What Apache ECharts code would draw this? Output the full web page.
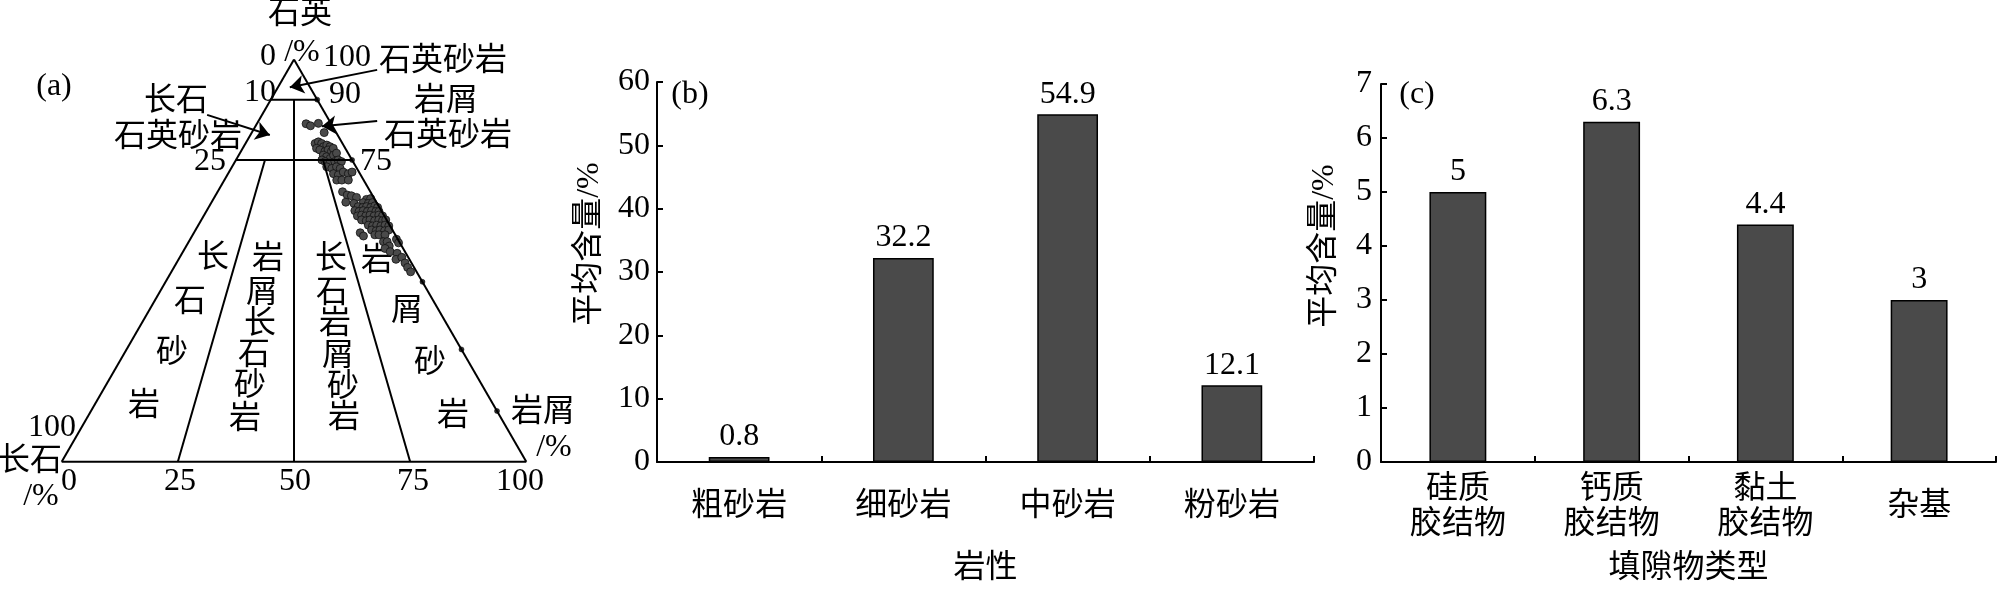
<!DOCTYPE html>
<html>
<head>
<meta charset="utf-8">
<script src="https://cdn.jsdelivr.net/npm/echarts@6/dist/echarts.min.js"></script>
<style>
html,body{margin:0;padding:0;background:#fff;}
#chart{width:2005px;height:589px;}
</style>
</head>
<body>
<div id="chart"></div>
<script>
// ---------------- data ----------------
const bCategories = ['粗砂岩', '细砂岩', '中砂岩', '粉砂岩'];
const bValues = [0.8, 32.2, 54.9, 12.1];
const bTicks = [0, 10, 20, 30, 40, 50, 60];

const cCategories = ['硅质\n胶结物', '钙质\n胶结物', '黏土\n胶结物', '杂基'];
const cValues = [5, 6.3, 4.4, 3];
const cTicks = [0, 1, 2, 3, 4, 5, 6, 7];

// ternary samples: [quartz, feldspar, rock fragments] in %
const samplePoints = [
  [84.0,5.4,10.6],[83.5,4.7,11.8],[84.1,2.7,13.2],[81.8,2.6,15.6],
  [79.1,5.9,15.0],[79.5,5.0,15.5],[79.1,4.5,16.4],[78.3,4.5,17.2],[78.7,3.6,17.7],[78.3,3.1,18.6],
  [77.9,6.2,15.9],[77.5,5.7,16.8],[77.1,4.8,18.1],[77.5,3.9,18.6],[77.1,3.4,19.5],[77.9,2.6,19.5],
  [76.2,5.6,18.2],[75.8,5.1,19.1],[75.4,4.5,20.1],[76.2,3.4,20.4],[76.7,2.5,20.8],
  [75.0,6.5,18.5],[74.6,6.0,19.4],[74.2,5.2,20.6],[74.6,3.9,21.5],[75.0,3.0,22.0],[74.6,2.5,22.9],
  [73.3,6.3,20.4],[72.9,5.4,21.7],[73.3,4.2,22.5],[72.9,3.6,23.5],
  [71.6,5.7,22.7],[71.3,4.8,23.9],[72.0,3.4,24.6],[71.6,2.5,25.9],[72.0,1.5,26.5],
  [70.0,5.8,24.2],[70.0,4.7,25.3],[70.0,3.3,26.7],
  [67.1,6.0,26.9],[66.3,5.4,28.3],[66.1,4.6,29.3],[65.7,3.7,30.6],[65.2,1.8,33.0],[65.4,0.8,33.8],
  [64.5,6.6,28.9],[64.2,5.0,30.8],[64.4,2.9,32.7],[64.2,1.9,33.9],[64.4,0.9,34.7],
  [63.4,4.5,32.1],[63.2,3.6,33.2],[63.4,2.7,33.9],[63.2,1.9,34.9],[63.6,0.8,35.6],[63.2,0.4,36.4],
  [62.4,5.7,31.9],[62.2,4.9,32.9],[62.4,3.9,33.7],[62.2,3.1,34.7],[62.4,2.1,35.5],[62.2,1.3,36.5],[62.2,0.6,37.2],
  [61.1,5.8,33.1],[61.3,4.8,33.9],[61.1,4.0,34.9],[61.3,3.0,35.7],[61.1,2.2,36.7],[61.3,1.1,37.6],[61.1,0.4,38.5],
  [60.1,5.4,34.5],[59.9,4.5,35.6],[60.1,3.6,36.3],[59.9,2.7,37.4],[60.1,1.7,38.2],[59.9,1.0,39.1],[60.1,0.2,39.7],
  [58.8,4.6,36.6],[58.6,3.8,37.6],[58.8,2.8,38.4],[58.6,2.0,39.4],[58.8,1.0,40.2],[58.6,0.3,41.1],
  [57.6,4.5,37.9],[57.4,3.6,39.0],[57.6,2.7,39.7],[57.4,1.8,40.8],[57.6,0.8,41.6],
  [56.9,7.3,35.8],[56.1,7.0,36.9],[56.4,4.4,39.2],[56.4,3.5,40.1],[56.4,2.2,41.4],
  [55.3,0.3,44.4],[54.4,0.3,45.3],[54.7,3.4,41.9],[54.7,2.6,42.7],[53.6,2.7,43.7],[53.0,3.9,43.1],
  [52.2,3.2,44.6],[51.8,1.9,46.3],[50.3,2.9,46.8],[50.8,1.4,47.8],[49.4,1.4,49.2],[48.3,1.4,50.3],[47.2,1.3,51.5]
];
// small points lying on the quartz–rock-fragment edge
const edgePoints = [[90,0,10],[75,0,25],[44.7,0,55.3],[27.9,0,72.1],[12.6,0,87.4]];

// classification boundaries, each a pair of [Q,F,R] ends
const boundaries = [
  [[100,0,0],[0,100,0]],
  [[0,100,0],[0,0,100]],
  [[0,0,100],[100,0,0]],
  [[90,10,0],[90,0,10]],
  [[75,25,0],[75,0,25]],
  [[90,5,5],[0,50,50]],
  [[75,18.75,6.25],[0,75,25]],
  [[75,6.25,18.75],[0,25,75]]
];

// leader arrows (plot units of the ternary frame): start, tip
const arrows = [
  [[67.9,97.4],[49.1,93.1]],
  [[31.3,86.2],[44.8,81.2]],
  [[67.9,84.7],[56.0,83.4]]
];

// ---------------- helpers ----------------
const FONT = "'Liberation Serif','Noto Sans CJK SC',serif";
const FS = 32;
function toPlot(p) {
  const s = p[0] + p[1] + p[2];
  return [(p[2] + p[0] / 2) / s * 100, p[0] / s * 100];
}

// annotation texts [text, x, y] in pixels
const annotations = [
  ['石英', 300, 15], ['0', 268, 57], ['/%', 302, 53], ['100', 347, 58], ['石英砂岩', 443, 62],
  ['(a)', 54, 87], ['10', 260, 93], ['90', 345, 95],
  ['长石', 176, 102], ['石英砂岩', 178, 138],
  ['岩屑', 446, 102], ['石英砂岩', 448, 137],
  ['25', 210, 162], ['75', 376, 162],
  ['长', 213, 259], ['石', 190, 303], ['砂', 172, 354], ['岩', 144, 407],
  ['岩', 268, 260], ['屑', 262, 294], ['长', 260, 325], ['石', 254, 356], ['砂', 250, 387], ['岩', 245, 420],
  ['长', 331, 260], ['石', 332, 294], ['岩', 335, 325], ['屑', 338, 357], ['砂', 343, 388], ['岩', 344, 419],
  ['岩', 377, 262], ['屑', 407, 312], ['砂', 430, 364], ['岩', 453, 417],
  ['100', 52, 428], ['长石', 30, 462], ['0', 69, 482], ['/%', 41, 497],
  ['25', 180, 482], ['50', 295, 482], ['75', 413, 482], ['100', 520, 482],
  ['岩屑', 543, 413], ['/%', 554, 448],
  ['(b)', 690, 95], ['(c)', 1417, 95]
];

const graphics = annotations.map(a => ({
  type: 'text', x: a[1], y: a[2], silent: true,
  style: { text: a[0], fontSize: FS, fontFamily: FONT, fill: '#000', align: 'center', verticalAlign: 'middle' }
}));
graphics.push({
  type: 'text', x: 590, y: 244, rotation: Math.PI / 2, silent: true,
  style: { text: '平均含量/%', fontSize: FS, fontFamily: FONT, fill: '#000', align: 'center', verticalAlign: 'middle' }
});
graphics.push({
  type: 'text', x: 1325, y: 246, rotation: Math.PI / 2, silent: true,
  style: { text: '平均含量/%', fontSize: FS, fontFamily: FONT, fill: '#000', align: 'center', verticalAlign: 'middle' }
});

const blackLine = { color: '#000', width: 2 };

const series = [];
boundaries.forEach(seg => {
  series.push({
    type: 'line', xAxisIndex: 0, yAxisIndex: 0, clip: false, silent: true,
    symbol: 'none', lineStyle: blackLine,
    data: seg.map(toPlot)
  });
});
series.push({
  type: 'lines', coordinateSystem: 'cartesian2d', xAxisIndex: 0, yAxisIndex: 0,
  clip: false, silent: true, symbol: ['none', 'arrow'], symbolSize: 14,
  lineStyle: { color: '#000', width: 2, opacity: 1 },
  data: arrows.map(a => ({ coords: a }))
});
series.push({
  type: 'scatter', xAxisIndex: 0, yAxisIndex: 0, clip: false, silent: true,
  symbol: 'circle', symbolSize: 8,
  itemStyle: { color: '#4a4a4a', borderColor: '#111', borderWidth: 0.8, opacity: 1 },
  data: samplePoints.map(toPlot)
});
series.push({
  type: 'scatter', xAxisIndex: 0, yAxisIndex: 0, clip: false, silent: true,
  symbol: 'circle', symbolSize: 5,
  itemStyle: { color: '#333', borderColor: '#000', borderWidth: 0.5, opacity: 1 },
  data: edgePoints.map(toPlot)
});

const barStyle = { color: '#4a4a4a', borderColor: '#000', borderWidth: 1.5 };
const barLabel = { show: true, position: 'top', distance: 4, fontSize: FS, fontFamily: FONT, color: '#000' };
series.push({ type: 'bar', xAxisIndex: 1, yAxisIndex: 1, barWidth: '37%', data: bValues, itemStyle: barStyle, label: barLabel });
series.push({ type: 'bar', xAxisIndex: 2, yAxisIndex: 2, barWidth: '37%', data: cValues, itemStyle: barStyle, label: barLabel });

function catAxis(idx, cats, name) {
  return {
    type: 'category', gridIndex: idx, data: cats,
    axisLine: { show: true, lineStyle: blackLine },
    axisTick: { show: true, inside: true, length: 6, lineStyle: blackLine },
    axisLabel: { fontSize: FS, fontFamily: FONT, color: '#000', margin: 45, verticalAlign: 'middle', lineHeight: 35, interval: 0 },
    name: name, nameLocation: 'middle', nameGap: 107,
    nameTextStyle: { fontSize: FS, fontFamily: FONT, color: '#000', verticalAlign: 'middle' }
  };
}
function valAxis(idx, ticks, margin) {
  return {
    type: 'value', gridIndex: idx, min: ticks[0], max: ticks[ticks.length - 1], interval: ticks[1] - ticks[0],
    axisLine: { show: true, lineStyle: blackLine },
    axisTick: { show: true, inside: true, length: 6, lineStyle: blackLine },
    axisLabel: { fontSize: FS, fontFamily: FONT, color: '#000', margin: margin },
    splitLine: { show: false }
  };
}

const option = {
  animation: false,
  backgroundColor: '#fff',
  grid: [
    { left: 61.7, top: 59.4, width: 464.6, height: 402.3, outerBoundsMode: 'none', containLabel: false },
    { left: 657, top: 82, width: 657, height: 380, outerBoundsMode: 'none', containLabel: false },
    { left: 1381, top: 84, width: 615, height: 378, outerBoundsMode: 'none', containLabel: false }
  ],
  xAxis: [
    { type: 'value', gridIndex: 0, min: 0, max: 100, show: false },
    catAxis(1, bCategories, '岩性'),
    catAxis(2, cCategories, '填隙物类型')
  ],
  yAxis: [
    { type: 'value', gridIndex: 0, min: 0, max: 100, show: false },
    valAxis(1, bTicks, 7),
    valAxis(2, cTicks, 9)
  ],
  graphic: graphics,
  series: series
};

const chart = echarts.init(document.getElementById('chart'), null, { renderer: 'canvas' });
chart.setOption(option);
</script>
</body>
</html>
